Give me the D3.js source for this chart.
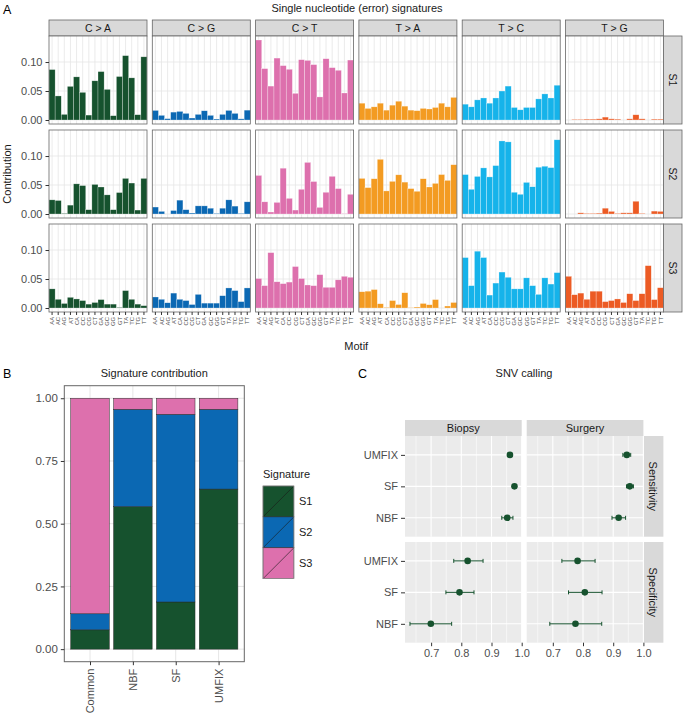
<!DOCTYPE html>
<html><head><meta charset="utf-8">
<script src="https://cdn.jsdelivr.net/npm/d3@7"></script>
<style>
body{margin:0;background:#fff}
svg{display:block}
text{font-family:"Liberation Sans",Arial,Helvetica,sans-serif}
</style>
</head><body>
<svg id="c" width="683" height="715"></svg>
<script>
// ---------------- DATA ----------------
const motifs = ["AA","AC","AG","AT","CA","CC","CG","CT","GA","GC","GG","GT","TA","TC","TG","TT"];
const mutTypes = ["C > A","C > G","C > T","T > A","T > C","T > G"];
const typeColors = ["#16522E","#0B68B3","#DD70AD","#F39B22","#16B3EA","#EC5B24"];
const signatures = ["S1","S2","S3"];

const S1_CA = [0.087,0.0415,0.0097,0.058,0.0744,0.0477,0.0085,0.0676,0.0835,0.0528,0.0074,0.075,0.111,0.0727,0.0091,0.109];
const S1_CG = [0.0165,0.008,0.0023,0.0136,0.0148,0.0114,0.0034,0.0097,0.0159,0.008,0.0017,0.0097,0.0165,0.0114,0.002,0.017];
const S1_CT = [0.138,0.0886,0.0585,0.1068,0.0938,0.0875,0.046,0.104,0.1028,0.0955,0.0398,0.1057,0.0903,0.0858,0.0466,0.1034];
const S1_TA = [0.029,0.02,0.0227,0.029,0.017,0.0256,0.0324,0.0239,0.017,0.016,0.02,0.019,0.0216,0.029,0.0227,0.039];
const S1_TC = [0.0273,0.0227,0.0347,0.038,0.029,0.038,0.05,0.0585,0.0216,0.0176,0.0216,0.0216,0.0364,0.045,0.038,0.06];
const S1_TG = [0,0.001,0.001,0.0015,0.0015,0.002,0.005,0.002,0.0015,0,0.002,0.009,0.002,0,0.0015,0.0015];

const S2_CA = [0.0244,0.0233,0.001,0.0153,0.052,0.049,0.0074,0.051,0.0466,0.033,0.0074,0.037,0.0614,0.0534,0.0068,0.0614];
const S2_CG = [0.012,0.0045,0,0.006,0.0239,0.0074,0.0017,0.014,0.014,0.010,0.001,0.010,0.0244,0.0136,0.001,0.021];
const S2_CT = [0.0665,0.021,0.0034,0.02,0.079,0.027,0.0068,0.0426,0.089,0.056,0.0114,0.0375,0.065,0.0438,0.0006,0.034];
const S2_TA = [0.0614,0.0455,0.0608,0.0943,0.0398,0.0563,0.0676,0.055,0.0438,0.0392,0.0608,0.0466,0.0528,0.068,0.058,0.085];
const S2_TC = [0.068,0.0426,0.0648,0.0795,0.064,0.0835,0.126,0.1244,0.0375,0.034,0.0545,0.047,0.0807,0.0824,0.080,0.128];
const S2_TG = [0,0,0.002,0.001,0.001,0.0015,0.010,0.0045,0.001,0.002,0.002,0.022,0.001,0,0.005,0.0045];

const S3_CA = [0.033,0.015,0.0078,0.0184,0.0156,0.0128,0.0067,0.0095,0.0145,0.0067,0.0067,0.001,0.030,0.015,0.0067,0.004];
const S3_CG = [0.019,0.015,0.009,0.0257,0.015,0.0128,0.006,0.0235,0.0084,0.0084,0.0084,0.0212,0.0346,0.030,0.011,0.0346];
const S3_CT = [0.0508,0.0385,0.0955,0.0452,0.042,0.0447,0.0715,0.0508,0.0397,0.0385,0.0575,0.0357,0.0357,0.0486,0.0547,0.053];
const S3_TA = [0.028,0.029,0.0318,0.0073,0.001,0.0128,0.006,0.0263,0.0006,0.0017,0.0078,0.0056,0.0145,0,0.0034,0.0095];
const S3_TC = [0.087,0.0385,0.098,0.087,0.0223,0.043,0.062,0.053,0.033,0.033,0.052,0.0385,0.0235,0.052,0.0413,0.061];
const S3_TG = [0.0547,0.0229,0.0257,0.015,0.029,0.029,0.011,0.0128,0.0156,0.0095,0.0246,0.0128,0.0246,0.073,0.0145,0.035];

const yTicksA = [0, 0.05, 0.10];

// Panel B
const groupsB = ["Common","NBF","SF","UMFIX"];
const contribS1 = [0.077, 0.568, 0.188, 0.638];
const contribS2 = [0.064, 0.388, 0.748, 0.318];
const contribS3 = [0.859, 0.044, 0.064, 0.044];
const sigColors = ["#16522E","#0B68B3","#DD70AD"];
const yTicksB = [0, 0.25, 0.5, 0.75, 1.0];

// Panel C
const methods = ["NBF","SF","UMFIX"];
const tissues = ["Biopsy","Surgery"];
const metrics = ["Sensitivity","Specificity"];
const biopsySensEst = [0.952, 0.976, 0.961];
const biopsySensLo  = [0.934, 0.972, 0.953];
const biopsySensHi  = [0.971, 0.980, 0.968];
const surgerySensEst = [0.918, 0.955, 0.945];
const surgerySensLo  = [0.896, 0.944, 0.932];
const surgerySensHi  = [0.941, 0.967, 0.958];
const biopsySpecEst = [0.699, 0.794, 0.821];
const biopsySpecLo  = [0.630, 0.749, 0.775];
const biopsySpecHi  = [0.768, 0.842, 0.872];
const surgerySpecEst = [0.775, 0.806, 0.782];
const surgerySpecLo  = [0.690, 0.752, 0.730];
const surgerySpecHi  = [0.862, 0.863, 0.840];
const xTicksC = [0.7, 0.8, 0.9, 1.0];
const xMinorC = [0.65, 0.75, 0.85, 0.95];

// ---------------- DRAW ----------------
const svg = d3.select("#c");
const TXT = "#4D4D4D", DARK = "#1A1A1A", BORDER = "#666", GRID = "#E6E6E6";
const FS = 11;

// ===== Panel A =====
const sigData = [
  [S1_CA,S1_CG,S1_CT,S1_TA,S1_TC,S1_TG],
  [S2_CA,S2_CG,S2_CT,S2_TA,S2_TC,S2_TG],
  [S3_CA,S3_CG,S3_CT,S3_TA,S3_TC,S3_TG]
];
const A = {x0:49, colW:98, colStep:103.3, y0:36, rowH:88, rowStep:94};
const xA = d3.scaleBand().domain(motifs).range([0, A.colW]).padding(0);
const yA = d3.scaleLinear().domain([-0.0069, 0.1449]).range([A.rowH, 0]);
const bw = xA.bandwidth();

svg.append("text").attr("x",3).attr("y",14).attr("font-size",12.5).attr("fill","#000").text("A");
svg.append("text").attr("x",357).attr("y",12).attr("text-anchor","middle").attr("font-size",FS).attr("fill",DARK)
  .text("Single nucleotide (error) signatures");

// top strips
mutTypes.forEach((t,c)=>{
  const x = A.x0 + c*A.colStep;
  svg.append("rect").attr("x",x).attr("y",20).attr("width",A.colW).attr("height",16)
    .attr("fill","#D9D9D9").attr("stroke",BORDER).attr("stroke-width",0.8);
  svg.append("text").attr("x",x+A.colW/2).attr("y",28).attr("dy","0.36em").attr("text-anchor","middle")
    .attr("font-size",10.5).attr("fill",DARK).text(t);
});
// right strips
const rsx = A.x0 + 5*A.colStep + A.colW;
signatures.forEach((s,r)=>{
  const y = A.y0 + r*A.rowStep;
  svg.append("rect").attr("x",rsx).attr("y",y).attr("width",682-rsx).attr("height",A.rowH)
    .attr("fill","#D9D9D9").attr("stroke",BORDER).attr("stroke-width",0.8);
  svg.append("text").attr("transform",`translate(${(rsx+682)/2},${y+A.rowH/2}) rotate(90)`)
    .attr("dy","0.36em").attr("text-anchor","middle").attr("font-size",10.5).attr("fill",DARK).text(s);
});

for (let r=0;r<3;r++){
  for (let c=0;c<6;c++){
    const g = svg.append("g").attr("transform",`translate(${A.x0+c*A.colStep},${A.y0+r*A.rowStep})`);
    g.append("rect").attr("width",A.colW).attr("height",A.rowH).attr("fill","#fff");
    g.selectAll("line.v").data(motifs).enter().append("line")
      .attr("x1",d=>xA(d)+bw/2).attr("x2",d=>xA(d)+bw/2).attr("y1",0).attr("y2",A.rowH)
      .attr("stroke",GRID).attr("stroke-width",0.8);
    g.selectAll("line.h").data(yTicksA).enter().append("line")
      .attr("x1",0).attr("x2",A.colW).attr("y1",d=>yA(d)).attr("y2",d=>yA(d))
      .attr("stroke",GRID).attr("stroke-width",0.8);
    const vals = sigData[r][c];
    g.selectAll("rect.bar").data(vals).enter().append("rect")
      .attr("x",(d,i)=>xA(motifs[i])).attr("width",bw)
      .attr("y",d=>yA(d)).attr("height",d=>yA(0)-yA(d))
      .attr("fill",typeColors[c]).attr("stroke","rgba(255,255,255,0.55)").attr("stroke-width",0.5);
    g.append("rect").attr("width",A.colW).attr("height",A.rowH).attr("fill","none")
      .attr("stroke",BORDER).attr("stroke-width",0.8);
    if (c===0){
      const ax = g.append("g").call(d3.axisLeft(yA).tickValues(yTicksA).tickFormat(d3.format(".2f")).tickSize(3.5).tickPadding(3));
      ax.select(".domain").remove();
      ax.selectAll("line").attr("stroke","#333");
      ax.selectAll("text").attr("font-size",FS).attr("fill",TXT).attr("font-family",null);
    }
    if (r===2){
      const ax = g.append("g").attr("transform",`translate(0,${A.rowH})`)
        .call(d3.axisBottom(xA).tickSize(3).tickFormat(""));
      ax.select(".domain").remove();
      ax.selectAll("line").attr("stroke","#333");
      // two-letter motif labels, rotated
      g.selectAll("text.m").data(motifs).enter().append("text")
        .attr("transform",d=>`translate(${xA(d)+bw/2},${A.rowH+5}) rotate(-90)`)
        .attr("text-anchor","end").attr("dy","0.36em")
        .attr("font-size",5.8).attr("fill",TXT).text(d=>d);
    }
  }
}
svg.append("text").attr("transform",`translate(11,${A.y0 + (2*A.rowStep+A.rowH)/2}) rotate(-90)`)
  .attr("text-anchor","middle").attr("font-size",FS).attr("fill",DARK).text("Contribution");
svg.append("text").attr("x",(A.x0+rsx)/2).attr("y",350).attr("text-anchor","middle")
  .attr("font-size",FS).attr("fill",DARK).text("Motif");

// ===== Panel B =====
const B = {x:64.3, y:385.7, w:180, h:276};
const xB = d3.scaleLinear().domain([0.4, 4.6]).range([B.x, B.x+B.w]);
const yB = d3.scaleLinear().domain([-0.05, 1.05]).range([B.y+B.h, B.y]);
svg.append("text").attr("x",3).attr("y",378).attr("font-size",12.5).attr("fill","#000").text("B");
svg.append("text").attr("x",B.x+B.w/2).attr("y",377).attr("text-anchor","middle").attr("font-size",FS).attr("fill",DARK)
  .text("Signature contribution");
svg.append("rect").attr("x",B.x).attr("y",B.y).attr("width",B.w).attr("height",B.h).attr("fill","#fff");
svg.selectAll("line.bgv").data(groupsB).enter().append("line")
  .attr("x1",(d,i)=>xB(i+1)).attr("x2",(d,i)=>xB(i+1)).attr("y1",B.y).attr("y2",B.y+B.h)
  .attr("stroke",GRID).attr("stroke-width",1);
svg.selectAll("line.bgh").data(yTicksB).enter().append("line")
  .attr("x1",B.x).attr("x2",B.x+B.w).attr("y1",d=>yB(d)).attr("y2",d=>yB(d))
  .attr("stroke",GRID).attr("stroke-width",1);
const contribs = [contribS1, contribS2, contribS3];
groupsB.forEach((gname,i)=>{
  let cum = 0;
  contribs.forEach((arr,k)=>{
    const v = arr[i];
    svg.append("rect").attr("x",xB(i+1-0.45)).attr("width",xB(1.9)-xB(1))
      .attr("y",yB(cum+v)).attr("height",yB(cum)-yB(cum+v))
      .attr("fill",sigColors[k]).attr("stroke","#2a2a2a").attr("stroke-width",0.5);
    cum += v;
  });
});
svg.append("rect").attr("x",B.x).attr("y",B.y).attr("width",B.w).attr("height",B.h).attr("fill","none")
  .attr("stroke",BORDER).attr("stroke-width",1);
{
  const ax = svg.append("g").attr("transform",`translate(${B.x},0)`)
    .call(d3.axisLeft(yB).tickValues(yTicksB).tickFormat(d3.format(".2f")).tickSize(3.5).tickPadding(3));
  ax.select(".domain").remove();
  ax.selectAll("line").attr("stroke","#333");
  ax.selectAll("text").attr("font-size",11.5).attr("fill",TXT).attr("font-family",null);
  const bx = svg.append("g").attr("transform",`translate(0,${B.y+B.h})`)
    .call(d3.axisBottom(xB).tickValues([1,2,3,4]).tickFormat("").tickSize(3.5));
  bx.select(".domain").remove();
  bx.selectAll("line").attr("stroke","#333");
  svg.selectAll("text.gb").data(groupsB).enter().append("text")
    .attr("transform",(d,i)=>`translate(${xB(i+1)},${B.y+B.h+7}) rotate(-90)`)
    .attr("text-anchor","end").attr("dy","0.36em").attr("font-size",11).attr("fill",TXT).text(d=>d);
}
// legend
const L = {x:263, y:486, s:30.9};
svg.append("text").attr("x",L.x).attr("y",L.y-8).attr("font-size",FS).attr("fill",DARK).text("Signature");
signatures.forEach((s,k)=>{
  const y = L.y + k*L.s;
  svg.append("rect").attr("x",L.x).attr("y",y).attr("width",L.s).attr("height",L.s)
    .attr("fill",sigColors[k]).attr("stroke","#2a2a2a").attr("stroke-width",0.5);
  svg.append("line").attr("x1",L.x).attr("y1",y+L.s).attr("x2",L.x+L.s).attr("y2",y)
    .attr("stroke","#1a1a1a").attr("stroke-width",0.6);
  svg.append("text").attr("x",L.x+L.s+5).attr("y",y+L.s/2).attr("dy","0.36em")
    .attr("font-size",FS).attr("fill",DARK).text(s);
});
svg.append("rect").attr("x",L.x).attr("y",L.y).attr("width",L.s).attr("height",3*L.s)
  .attr("fill","none").attr("stroke","#999").attr("stroke-width",0.6);

// ===== Panel C =====
svg.append("text").attr("x",358).attr("y",378).attr("font-size",12.5).attr("fill","#000").text("C");
svg.append("text").attr("x",524).attr("y",377).attr("text-anchor","middle").attr("font-size",FS).attr("fill",DARK)
  .text("SNV calling");
const C = {colX:[405, 526.7], colW:116.7, rowY:[436, 542], rowH:100.7, stripTop:420, rsX:643.4, rsW:20};
const cData = {
  "Biopsy|Sensitivity":[biopsySensEst,biopsySensLo,biopsySensHi],
  "Surgery|Sensitivity":[surgerySensEst,surgerySensLo,surgerySensHi],
  "Biopsy|Specificity":[biopsySpecEst,biopsySpecLo,biopsySpecHi],
  "Surgery|Specificity":[surgerySpecEst,surgerySpecLo,surgerySpecHi]
};
const xC = d3.scaleLinear().domain([0.6135, 1.0]).range([0, C.colW]);
const yC = d3.scaleLinear().domain([0.4, 3.6]).range([C.rowH, 0]);
tissues.forEach((t,ci)=>{
  svg.append("rect").attr("x",C.colX[ci]).attr("y",C.stripTop).attr("width",C.colW).attr("height",C.rowY[0]-C.stripTop).attr("fill","#D9D9D9");
  svg.append("text").attr("x",C.colX[ci]+C.colW/2).attr("y",(C.stripTop+C.rowY[0])/2).attr("dy","0.36em")
    .attr("text-anchor","middle").attr("font-size",FS).attr("fill",DARK).text(t);
});
metrics.forEach((m,ri)=>{
  svg.append("rect").attr("x",C.rsX).attr("y",C.rowY[ri]).attr("width",C.rsW).attr("height",C.rowH).attr("fill","#D9D9D9");
  svg.append("text").attr("transform",`translate(${C.rsX+C.rsW/2},${C.rowY[ri]+C.rowH/2}) rotate(90)`)
    .attr("dy","0.36em").attr("text-anchor","middle").attr("font-size",FS).attr("fill",DARK).text(m);
});
metrics.forEach((m,ri)=>{
  tissues.forEach((t,ci)=>{
    const g = svg.append("g").attr("transform",`translate(${C.colX[ci]},${C.rowY[ri]})`);
    g.append("rect").attr("width",C.colW).attr("height",C.rowH).attr("fill","#EBEBEB");
    g.selectAll("line.mn").data(xMinorC).enter().append("line")
      .attr("x1",d=>xC(d)).attr("x2",d=>xC(d)).attr("y1",0).attr("y2",C.rowH)
      .attr("stroke","#fff").attr("stroke-width",0.55);
    g.selectAll("line.mj").data(xTicksC).enter().append("line")
      .attr("x1",d=>xC(d)).attr("x2",d=>xC(d)).attr("y1",0).attr("y2",C.rowH)
      .attr("stroke","#fff").attr("stroke-width",1.1);
    g.selectAll("line.hy").data(methods).enter().append("line")
      .attr("x1",0).attr("x2",C.colW).attr("y1",(d,i)=>yC(i+1)).attr("y2",(d,i)=>yC(i+1))
      .attr("stroke","#fff").attr("stroke-width",1.1);
    const [est,lo,hi] = cData[t+"|"+m];
    methods.forEach((md,i)=>{
      const y = yC(i+1);
      g.append("line").attr("x1",xC(lo[i])).attr("x2",xC(hi[i])).attr("y1",y).attr("y2",y)
        .attr("stroke","#16522E").attr("stroke-width",1);
      [lo[i],hi[i]].forEach(v=>g.append("line").attr("x1",xC(v)).attr("x2",xC(v)).attr("y1",y-2).attr("y2",y+2)
        .attr("stroke","#16522E").attr("stroke-width",1));
      g.append("circle").attr("cx",xC(est[i])).attr("cy",y).attr("r",3.3).attr("fill","#16522E");
    });
    if (ci===0){
      const ax = g.append("g").call(d3.axisLeft(yC).tickValues([1,2,3]).tickFormat(d=>methods[d-1]).tickSize(4).tickPadding(3));
      ax.select(".domain").remove();
      ax.selectAll("line").attr("stroke","#333");
      ax.selectAll("text").attr("font-size",FS).attr("fill",TXT).attr("font-family",null);
    }
    if (ri===1){
      const ax = g.append("g").attr("transform",`translate(0,${C.rowH})`)
        .call(d3.axisBottom(xC).tickValues(xTicksC).tickFormat(d3.format(".1f")).tickSize(3.5).tickPadding(3));
      ax.select(".domain").remove();
      ax.selectAll("line").attr("stroke","#333");
      ax.selectAll("text").attr("font-size",FS).attr("fill",TXT).attr("font-family",null);
    }
  });
});
</script>
</body></html>
